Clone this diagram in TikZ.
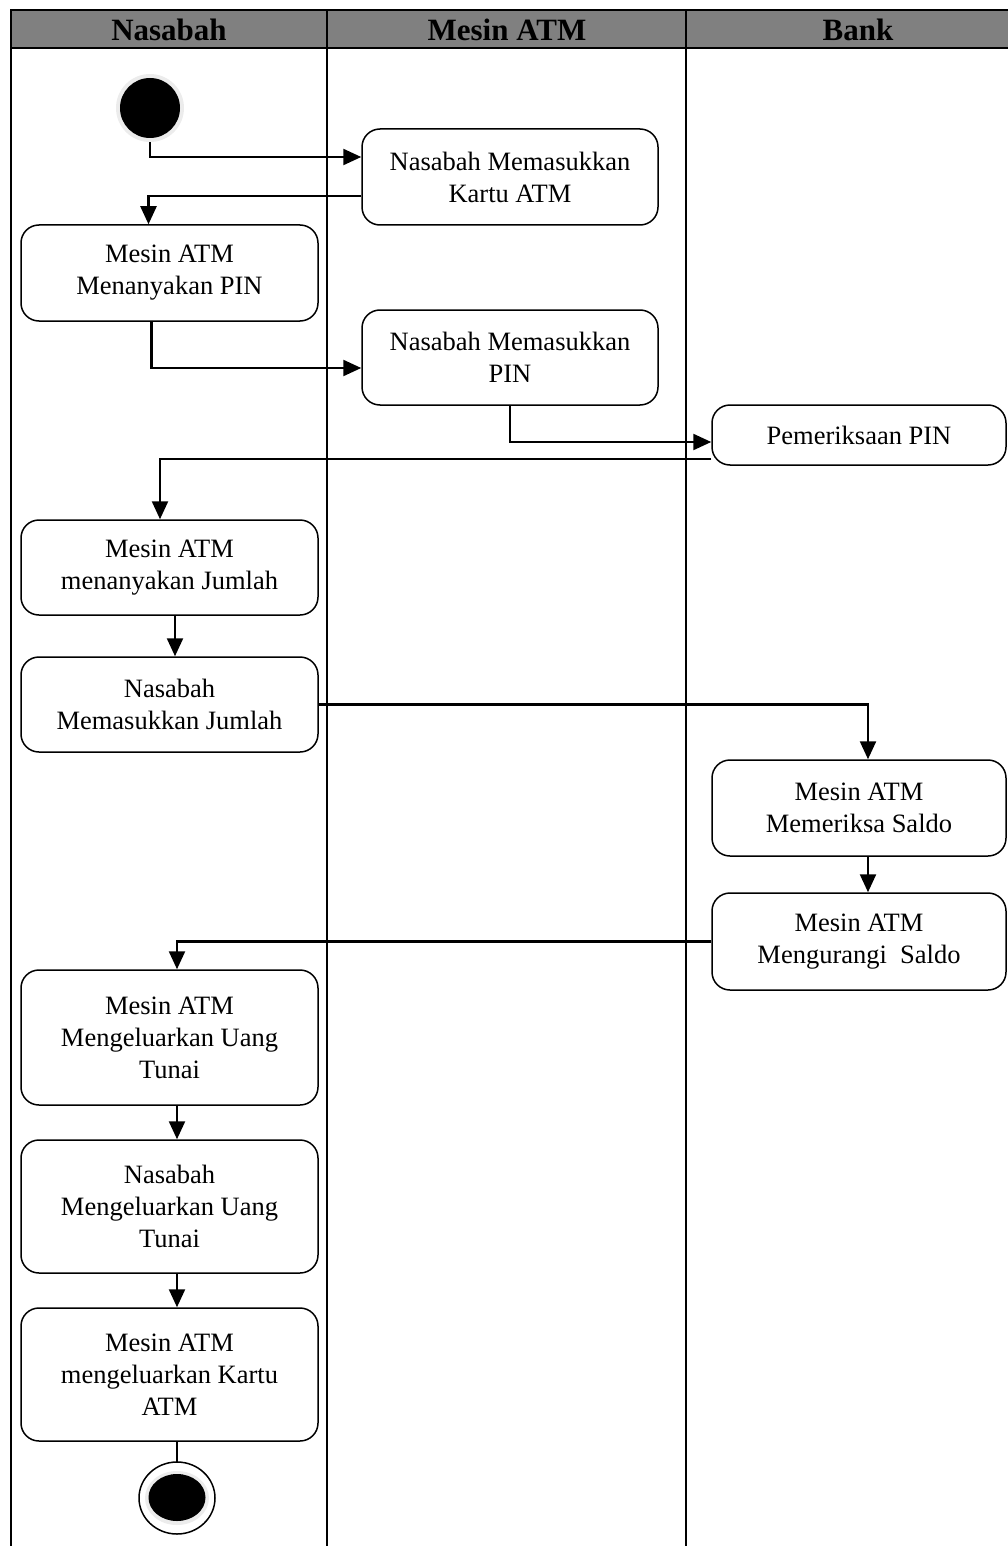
\documentclass[tikz,border=0pt]{standalone}
\usepackage{fontspec}
\setmainfont{Liberation Serif}
\usetikzlibrary{arrows.meta,shapes.geometric}
\definecolor{hdrgray}{RGB}{128,128,128}
\definecolor{halo}{RGB}{236,236,236}
\begin{document}
\begin{tikzpicture}[x=1pt,y=-1pt,
  act/.style={draw, line width=1.5pt, rounded corners=18pt, align=center,
    inner sep=0pt, font=\fontsize{26.5}{32}\selectfont, minimum width=296pt},
  conn/.style={line width=2.3pt},
  arr/.style={conn, -{Triangle[length=18pt,width=16pt]}},
  lane/.style={line width=2.4pt},
  hdr/.style={font=\bfseries\fontsize{31}{36}\selectfont, inner sep=0pt}]
\useasboundingbox (0,0) rectangle (1008,1546);
% header and lanes
\fill[hdrgray] (11,10) rectangle (1010,48);
\draw[lane] (1010,10) -- (11,10) -- (11,1546);
\draw[lane] (11,48) -- (1010,48);
\draw[lane] (327,10) -- (327,1546);
\draw[lane] (686,10) -- (686,1546);
\node[hdr] (h1) at (169,30) {Nasabah};
\node[hdr] (h2) at (507,30) {Mesin ATM};
\node[hdr] (h3) at (858,30) {Bank};
% start
\fill[halo] (150,108) circle (34);
\node[circle, fill=black, minimum size=60pt, inner sep=0pt] (start) at (150,108) {};
% activities
\node[act, minimum height=96pt] (k1) at (510,177) {Nasabah Memasukkan\\Kartu ATM};
\node[act, minimum height=96pt, minimum width=297pt] (k2) at (169.5,273) {Mesin ATM\\Menanyakan PIN};
\node[act, minimum height=95pt] (k3) at (510,357.5) {Nasabah Memasukkan\\PIN};
\node[act, minimum height=60pt, minimum width=294pt] (k4) at (859,435) {Pemeriksaan PIN};
\node[act, minimum height=95pt, minimum width=297pt] (k5) at (169.5,567.5) {Mesin ATM\\menanyakan Jumlah};
\node[act, minimum height=95pt, minimum width=297pt] (k6) at (169.5,704.5) {Nasabah\\Memasukkan Jumlah};
\node[act, minimum height=96pt, minimum width=294pt] (k7) at (859,808) {Mesin ATM\\Memeriksa Saldo};
\node[act, minimum height=97pt, minimum width=294pt] (k8) at (859,941.5) {Mesin ATM\\Mengurangi\ \ Saldo};
\node[act, minimum height=135pt, minimum width=297pt] (k9) at (169.5,1037.5) {Mesin ATM\\Mengeluarkan Uang\\Tunai};
\node[act, minimum height=133pt, minimum width=297pt] (k10) at (169.5,1206.5) {Nasabah\\Mengeluarkan Uang\\Tunai};
\node[act, minimum height=133pt, minimum width=297pt] (k11) at (169.5,1374.5) {Mesin ATM\\mengeluarkan Kartu\\ATM};
% end
\draw[line width=1.5pt, fill=white] (177,1498) ellipse (38 and 36);
\fill[halo] (177,1498) ellipse (32 and 27);
\node[ellipse, fill=black, minimum width=57pt, minimum height=47pt, inner sep=0pt] (end) at (177,1497.5) {};
\coordinate (endtop) at (177,1462);
% connectors
\draw[arr] ([yshift=-4pt]start.south) |- ([yshift=20pt]k1.west);
\draw[arr] ([yshift=-19pt]k1.west) -| ([xshift=-21pt]k2.north);
\draw[arr] ([xshift=-18pt]k2.south) |- ([yshift=-10.5pt]k3.west);
\draw[arr] (k3.south) |- ([yshift=-7pt]k4.west);
\draw[arr] ([yshift=-24pt]k4.west) -| ([xshift=-9.5pt]k5.north);
\draw[arr] ([xshift=5.5pt]k5.south) -- ([xshift=5.5pt]k6.north);
\draw[arr] (k6.east) -| ([xshift=9pt]k7.north);
\draw[arr] ([xshift=9pt]k7.south) -- ([xshift=9pt]k8.north);
\draw[arr] (k8.west) -| ([xshift=7.5pt]k9.north);
\draw[arr] ([xshift=7.5pt]k9.south) -- ([xshift=7.5pt]k10.north);
\draw[arr] ([xshift=7.5pt]k10.south) -- ([xshift=7.5pt]k11.north);
\draw[conn] ([xshift=7.5pt]k11.south) -- (endtop);
\end{tikzpicture}
\end{document}
